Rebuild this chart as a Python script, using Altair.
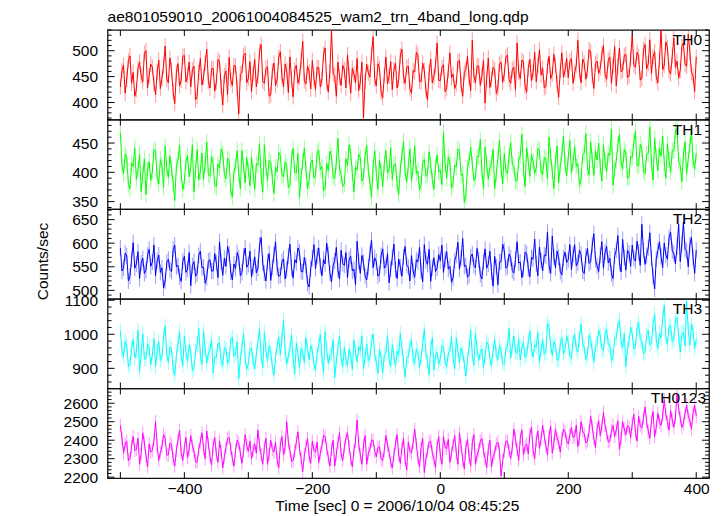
import altair as alt
import pandas as pd

FONT = "Liberation Sans"
FS = 15.6
TITLE = "ae801059010_20061004084525_wam2_trn_4band_long.qdp"
X_TITLE = "Time [sec] 0 = 2006/10/04 08:45:25"
Y_TITLE = "Counts/sec"

# time grid (sec): 2.5 s bins from -500 to 400
t_start, t_step, n_bins = -500, 2.5, 361
times = [t_start + k * t_step for k in range(n_bins)]

th0 = [430, 462, 472, 418, 445, 481, 490, 437, 458, 412, 425, 466, 478, 451, 440, 495, 500, 428, 452, 474,
       468, 436, 415, 459, 482, 427, 447, 471, 509, 445, 438, 486, 462, 420, 398, 457, 475, 432, 443, 489,
       491, 440, 452, 478, 430, 463, 470, 405, 412, 458, 485, 434, 449, 476, 503, 441, 428, 465, 466, 422,
       440, 483, 478, 431, 395, 452, 461, 415, 487, 444, 433, 472, 470, 427, 378, 455, 458, 491, 495, 438,
       447, 479, 421, 456, 483, 430, 452, 498, 512, 441, 437, 466, 469, 412, 415, 460, 476, 433, 444, 487,
       498, 451, 430, 474, 462, 419, 488, 445, 411, 463, 472, 437, 449, 481, 518, 442, 436, 470, 459, 426,
       481, 447, 425, 468, 467, 430, 446, 493, 505, 439, 420, 461, 540, 455, 452, 412, 478, 449, 433, 472,
       463, 428, 492, 451, 418, 466, 455, 438, 485, 423, 440, 478, 370, 441, 474, 457, 449, 493, 527, 446,
       432, 475, 466, 419, 409, 452, 488, 436, 451, 479, 425, 463, 476, 428, 445, 490, 503, 450, 437, 468,
       470, 426, 418, 462, 459, 497, 492, 441, 440, 476, 462, 424, 405, 457, 484, 438, 450, 472, 515, 443,
       442, 467, 473, 421, 428, 461, 496, 448, 455, 427, 436, 479, 481, 434, 412, 458, 464, 489, 447, 423,
       520, 452, 438, 471, 470, 433, 452, 482, 399, 446, 486, 429, 445, 468, 463, 417, 428, 474, 478, 439,
       455, 488, 492, 444, 437, 463, 468, 425, 515, 459, 446, 482, 478, 431, 420, 466, 483, 442, 458, 497,
       440, 471, 502, 453, 466, 428, 431, 470, 489, 446, 455, 493, 472, 436, 410, 462, 496, 449, 462, 485,
       448, 479, 485, 437, 457, 472, 520, 461, 438, 484, 476, 445, 463, 502, 498, 451, 427, 475, 480, 456,
       466, 493, 510, 454, 445, 482, 488, 437, 470, 508, 432, 471, 505, 459, 462, 491, 493, 448, 451, 486,
       530, 472, 468, 497, 489, 443, 447, 502, 512, 465, 475, 521, 456, 488, 498, 450, 438, 481, 540, 463,
       472, 517, 506, 461, 455, 490, 525, 468, 480, 447, 462, 508, 515, 474, 470, 532, 497, 458, 452, 421,
       488]

th1 = [468, 412, 398, 431, 425, 379, 372, 416, 410, 442, 388, 405, 431, 367, 395, 423, 362, 404, 418, 386,
       402, 439, 436, 391, 380, 422, 412, 374, 445, 407, 391, 428, 406, 381, 352, 410, 421, 446, 397, 370,
       384, 419, 428, 392, 410, 447, 366, 405, 439, 387, 401, 433, 388, 415, 452, 396, 393, 427, 415, 378,
       375, 414, 407, 440, 432, 396, 389, 424, 420, 368, 358, 402, 411, 437, 398, 372, 437, 411, 382, 425,
       405, 377, 426, 398, 371, 415, 412, 449, 393, 366, 447, 408, 386, 421, 417, 390, 364, 409, 401, 434,
       429, 395, 392, 418, 410, 374, 378, 425, 441, 400, 399, 432, 357, 394, 418, 441, 405, 372, 386, 416,
       421, 390, 395, 433, 438, 404, 410, 369, 372, 415, 403, 436, 427, 393, 389, 418, 458, 407, 396, 376,
       380, 423, 412, 447, 433, 398, 367, 409, 404, 431, 425, 385, 392, 428, 446, 403, 383, 357, 410, 437,
       398, 371, 420, 404, 376, 415, 437, 399, 405, 442, 388, 413, 415, 380, 362, 406, 428, 453, 400, 384,
       411, 440, 385, 409, 445, 398, 402, 370, 379, 417, 422, 393, 396, 435, 413, 388, 371, 410, 430, 401,
       404, 379, 468, 415, 390, 426, 418, 373, 381, 412, 409, 440, 436, 395, 397, 349, 360, 408, 420, 443,
       414, 386, 392, 427, 427, 456, 403, 372, 443, 415, 388, 408, 416, 439, 372, 397, 424, 455, 405, 380,
       432, 403, 398, 428, 451, 414, 410, 386, 385, 421, 428, 465, 404, 376, 442, 418, 393, 430, 419, 398,
       408, 441, 437, 401, 396, 426, 423, 389, 460, 428, 401, 372, 418, 445, 382, 411, 431, 462, 412, 394,
       426, 454, 399, 418, 444, 410, 415, 378, 388, 429, 433, 466, 408, 395, 452, 421, 395, 437, 421, 450,
       410, 385, 447, 418, 401, 433, 429, 474, 378, 404, 420, 448, 465, 416, 406, 439, 434, 390, 392, 427,
       425, 451, 470, 412, 411, 448, 440, 402, 398, 431, 432, 478, 415, 387, 458, 426, 403, 441, 428, 462,
       416, 390, 449, 421, 400, 437, 437, 471, 475, 418, 412, 384, 430, 452, 398, 423, 446, 470, 421, 405,
       433]

th2 = [590, 541, 548, 579, 573, 520, 530, 566, 601, 547, 556, 582, 525, 558, 568, 536, 542, 575, 587, 551,
       560, 596, 531, 563, 575, 538, 548, 505, 520, 559, 566, 544, 540, 587, 596, 550, 553, 529, 519, 561,
       572, 538, 545, 580, 510, 552, 561, 530, 536, 574, 583, 548, 549, 515, 527, 562, 565, 541, 541, 578,
       558, 527, 603, 560, 532, 568, 551, 593, 578, 539, 522, 556, 546, 580, 569, 531, 538, 572, 590, 549,
       555, 583, 528, 550, 571, 537, 547, 596, 612, 558, 536, 520, 560, 578, 521, 549, 575, 603, 549, 530,
       532, 561, 567, 524, 544, 573, 598, 548, 526, 565, 558, 590, 581, 540, 539, 570, 552, 515, 507, 546,
       568, 597, 546, 573, 590, 552, 531, 566, 556, 600, 575, 536, 518, 553, 562, 591, 543, 524, 585, 557,
       553, 580, 527, 566, 572, 541, 545, 512, 604, 561, 536, 574, 559, 530, 522, 550, 578, 607, 548, 569,
       561, 530, 535, 574, 588, 547, 552, 578, 516, 545, 570, 598, 544, 525, 566, 550, 530, 571, 593, 554,
       549, 520, 574, 541, 528, 565, 560, 591, 541, 518, 597, 563, 555, 587, 519, 548, 569, 540, 547, 576,
       563, 596, 538, 566, 582, 545, 551, 517, 527, 563, 574, 602, 545, 568, 610, 551, 553, 528, 532, 571,
       577, 553, 548, 589, 565, 533, 524, 560, 588, 547, 556, 583, 540, 509, 572, 550, 512, 560, 561, 598,
       584, 547, 551, 577, 569, 542, 537, 566, 603, 558, 560, 527, 545, 581, 578, 546, 529, 570, 566, 609,
       556, 531, 592, 563, 541, 575, 573, 624, 552, 536, 615, 571, 548, 583, 570, 540, 533, 568, 581, 559,
       565, 597, 544, 576, 597, 552, 558, 585, 576, 541, 536, 572, 589, 557, 561, 596, 620, 565, 552, 540,
       574, 603, 547, 581, 593, 558, 568, 535, 525, 573, 585, 616, 559, 539, 608, 570, 543, 585, 579, 551,
       596, 568, 562, 604, 581, 553, 640, 585, 555, 574, 590, 622, 568, 530, 503, 567, 584, 603, 572, 548,
       600, 575, 566, 612, 623, 584, 578, 556, 592, 640, 561, 598, 645, 587, 583, 550, 597, 612, 570, 536,
       585]

th3 = [1010, 952, 935, 980, 968, 905, 912, 957, 985, 931, 948, 1012, 890, 944, 1002, 928, 927, 972, 960, 911,
       942, 987, 905, 950, 978, 923, 936, 991, 1025, 941, 918, 963, 955, 899, 880, 938, 970, 1008, 938, 907,
       995, 947, 921, 969, 949, 893, 902, 951, 968, 1018, 940, 911, 1010, 957, 915, 946, 952, 986, 887, 933,
       933, 972, 975, 922, 908, 961, 958, 914, 926, 983, 992, 936, 944, 978, 869, 929, 962, 1004, 930, 897,
       915, 956, 960, 919, 898, 943, 978, 1016, 937, 902, 1005, 954, 921, 966, 947, 905, 880, 933, 965, 992,
       940, 988, 1040, 951, 912, 937, 955, 999, 928, 884, 975, 941, 903, 958, 948, 917, 990, 956, 925, 968,
       950, 913, 895, 944, 968, 1001, 932, 887, 1008, 953, 915, 938, 944, 984, 872, 921, 958, 995, 929, 906,
       962, 924, 908, 955, 940, 897, 983, 946, 920, 964, 951, 996, 898, 935, 972, 922, 934, 979, 1000, 941,
       918, 886, 955, 932, 887, 940, 946, 997, 925, 906, 970, 937, 906, 951, 938, 1002, 960, 919, 875, 929,
       936, 968, 983, 929, 914, 957, 949, 903, 929, 972, 1015, 946, 920, 881, 958, 990, 895, 936, 947, 912,
       928, 966, 965, 918, 904, 945, 952, 993, 933, 899, 990, 951, 917, 960, 944, 915, 878, 926, 961, 1012,
       940, 909, 1003, 958, 922, 947, 957, 903, 935, 978, 970, 928, 908, 953, 985, 941, 926, 968, 951, 915,
       912, 956, 968, 1017, 930, 963, 995, 948, 945, 987, 925, 961, 976, 932, 940, 979, 1010, 957, 933, 969,
       962, 1005, 918, 954, 985, 942, 947, 1033, 1020, 966, 938, 979, 967, 924, 925, 972, 990, 943, 955, 996,
       975, 938, 930, 981, 1000, 957, 948, 989, 1030, 972, 962, 926, 940, 997, 985, 951, 918, 963, 970, 1012,
       995, 956, 952, 1001, 1015, 969, 968, 922, 935, 987, 988, 1026, 1040, 978, 960, 1003, 905, 958, 978, 1021,
       1000, 957, 962, 1018, 1035, 984, 980, 943, 948, 996, 1012, 968, 975, 1028, 1060, 985, 958, 1003, 990, 1045,
       1085, 992, 970, 1024, 1025, 977, 985, 1041, 1050, 996, 948, 1002, 1005, 967, 1098, 1013, 968, 1030, 1010, 958,
       985]

th0123 = [2480, 2410, 2330, 2380, 2395, 2290, 2300, 2365, 2420, 2345, 2350, 2410, 2270, 2330, 2440, 2385, 2315, 2255, 2380, 2335,
          2345, 2400, 2500, 2370, 2290, 2335, 2365, 2430, 2410, 2320, 2320, 2385, 2375, 2300, 2260, 2345, 2400, 2455, 2335, 2290,
          2360, 2415, 2305, 2350, 2425, 2370, 2340, 2285, 2280, 2350, 2390, 2440, 2355, 2300, 2450, 2380, 2310, 2265, 2370, 2415,
          2325, 2280, 2395, 2340, 2250, 2310, 2360, 2410, 2415, 2355, 2300, 2260, 2345, 2400, 2385, 2330, 2275, 2340, 2430, 2370,
          2340, 2395, 2300, 2345, 2380, 2330, 2455, 2375, 2320, 2270, 2360, 2410, 2270, 2325, 2400, 2350, 2335, 2390, 2295, 2250,
          2375, 2420, 2320, 2365, 2500, 2390, 2345, 2285, 2290, 2340, 2390, 2445, 2355, 2300, 2230, 2320, 2365, 2410, 2310, 2275,
          2395, 2345, 2335, 2390, 2280, 2330, 2370, 2425, 2420, 2355, 2305, 2260, 2350, 2400, 2260, 2325, 2385, 2440, 2325, 2290,
          2360, 2410, 2440, 2365, 2300, 2255, 2345, 2395, 2510, 2380, 2320, 2270, 2375, 2425, 2270, 2330, 2350, 2400, 2400, 2340,
          2310, 2360, 2365, 2300, 2290, 2345, 2425, 2370, 2335, 2280, 2250, 2320, 2380, 2430, 2320, 2275, 2355, 2410, 2295, 2240,
          2390, 2340, 2330, 2385, 2460, 2380, 2305, 2255, 2360, 2410, 2225, 2300, 2340, 2390, 2395, 2330, 2300, 2250, 2370, 2420,
          2320, 2270, 2420, 2360, 2355, 2405, 2280, 2330, 2375, 2425, 2330, 2270, 2440, 2370, 2295, 2245, 2360, 2405, 2310, 2260,
          2385, 2430, 2270, 2320, 2345, 2395, 2410, 2345, 2300, 2250, 2350, 2400, 2255, 2310, 2330, 2380, 2390, 2340, 2205, 2290,
          2340, 2395, 2395, 2345, 2300, 2360, 2460, 2405, 2350, 2290, 2410, 2455, 2320, 2365, 2380, 2325, 2430, 2470, 2345, 2300,
          2400, 2450, 2355, 2405, 2480, 2420, 2370, 2320, 2425, 2475, 2330, 2385, 2460, 2410, 2390, 2335, 2410, 2460, 2445, 2395,
          2380, 2430, 2470, 2415, 2420, 2480, 2365, 2410, 2500, 2450, 2435, 2385, 2395, 2445, 2530, 2470, 2410, 2360, 2460, 2505,
          2425, 2475, 2550, 2480, 2440, 2390, 2395, 2450, 2480, 2420, 2455, 2505, 2350, 2410, 2500, 2460, 2430, 2480, 2470, 2415,
          2490, 2540, 2440, 2395, 2530, 2480, 2465, 2520, 2580, 2500, 2450, 2410, 2505, 2555, 2420, 2470, 2545, 2500, 2480, 2530,
          2620, 2540, 2500, 2455, 2560, 2510, 2470, 2525, 2650, 2575, 2520, 2470, 2490, 2545, 2590, 2530, 2510, 2460, 2545, 2590,
          2530]

band_names = ["TH0", "TH1", "TH2", "TH3", "TH0123"]
band_values = [th0, th1, th2, th3, th0123]
band_errors = [15, 14, 17, 22, 36]   # typical 1-sigma error bar per band
band_colors = ["#ff0000", "#00ff00", "#0000ff", "#00ffff", "#ff00ff"]
y_domains = [[367, 540], [337, 490], [482, 672], [841, 1104], [2195, 2680]]
y_major = [[400, 450, 500], [350, 400, 450], [500, 550, 600, 650],
           [900, 1000, 1100], [2200, 2300, 2400, 2500, 2600]]
y_minor_step = [10, 10, 10, 20, 20]
x_domain = [-520, 420]
x_label_values = [-400, -200, 0, 200, 400]
x_tick_values = [-500, -400, -300, -200, -100, 0, 100, 200, 300, 400]

W, H = 604, 90
MAJ, MIN, XT = 7, 4, 6


def panel(i):
    name = band_names[i]
    color = band_colors[i]
    dom = y_domains[i]
    first, last = i == 0, i == len(band_names) - 1
    err = band_errors[i]
    df = pd.DataFrame({"t": times, "v": band_values[i]})
    df["lo"] = df["v"] - err
    df["hi"] = df["v"] + err
    xs = alt.Scale(domain=x_domain, nice=False, zero=False)
    ys = alt.Scale(domain=dom, nice=False, zero=False)

    yaxis_kw = dict(values=y_major[i], format="d", ticks=False, domain=False, grid=False,
                    labelPadding=10, labelFontSize=FS, labelFont=FONT,
                    labelColor="black", title=None)
    if i == 2:
        yaxis_kw.update(title=Y_TITLE, titleFontSize=FS, titleFont=FONT,
                        titleFontWeight="normal", titleColor="black",
                        titlePadding=21, titleY=52)
    yaxis = alt.Axis(**yaxis_kw)
    if last:
        xaxis = alt.Axis(
            values=x_label_values, format="d", ticks=False, domain=False, grid=False,
            labelPadding=3, labelFontSize=FS, labelFont=FONT, labelColor="black",
            labelFlush=False,
            title=X_TITLE, titleFontSize=FS, titleFont=FONT, titleFontWeight="normal",
            titleColor="black", titlePadding=2, titleX=290.5)
    else:
        xaxis = None

    def X(field="t"):
        return alt.X(f"{field}:Q", scale=xs, axis=xaxis)

    def Y(field="v"):
        return alt.Y(f"{field}:Q", scale=ys, axis=yaxis)

    bars = alt.Chart(df).mark_rule(color=color, strokeWidth=1, opacity=0.4, clip=True).encode(
        x=X(), y=Y("lo"), y2="hi:Q")
    line = alt.Chart(df).mark_line(color=color, strokeWidth=1, clip=True).encode(
        x=X(), y=Y())

    step = y_minor_step[i]
    lo = (dom[0] // step + 1) * step
    minor_vals = [v for v in range(lo, dom[1] + 1, step) if v not in y_major[i]]
    maj_df = pd.DataFrame({"v": [v for v in y_major[i] if dom[0] <= v <= dom[1]]})
    min_df = pd.DataFrame({"v": minor_vals})
    xt_df = pd.DataFrame({"t": x_tick_values})

    def yrule(d, x0, x1):
        return alt.Chart(d).mark_rule(color="black", strokeWidth=1).encode(
            y=Y(), x=alt.value(x0), x2=alt.value(x1))

    def xrule(y0, y1):
        return alt.Chart(xt_df).mark_rule(color="black", strokeWidth=1).encode(
            x=X(), y=alt.value(y0), y2=alt.value(y1))

    lab_df = pd.DataFrame({"s": [name]})
    lab_x = W - 3 if last else W - 7
    label = alt.Chart(lab_df).mark_text(align="right", baseline="top", fontSize=FS,
                                        font=FONT, color="black").encode(
        x=alt.value(lab_x), y=alt.value(3), text="s:N")

    layers = [bars, line,
              yrule(maj_df, 0, MAJ), yrule(min_df, 0, MIN),
              yrule(maj_df, W - MAJ, W), yrule(min_df, W - MIN, W),
              xrule(0, XT), xrule(H - XT, H), label]
    props = dict(width=W, height=H)
    if first:
        props["title"] = alt.TitleParams(TITLE, anchor="start", frame="group", fontSize=FS,
                                         font=FONT, fontWeight="normal", color="black",
                                         offset=4)
    return alt.layer(*layers).properties(**props)


chart = alt.vconcat(*[panel(i) for i in range(len(band_names))], spacing=0, bounds="flush").properties(
    padding={"left": 27, "top": 0, "right": 5, "bottom": 0}
).configure_view(stroke="#111111", strokeWidth=1.3)

chart.save("out.html", embed_options={"renderer": "svg", "actions": False})
